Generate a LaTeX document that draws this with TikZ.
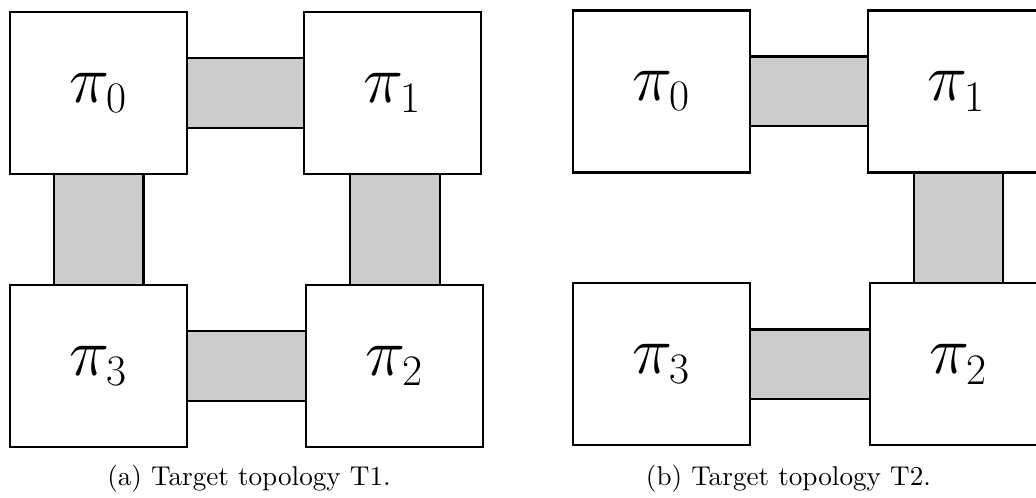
\documentclass[tikz,border=0pt]{standalone}
\usepackage{amsmath,amsfonts}
\usepackage{tikz}
\usetikzlibrary{positioning,calc}
\newcommand{\pilabel}[1]{$\pi_{\mbox{\fontsize{16}{16}\selectfont #1}}$}

\begin{document}
\begin{tikzpicture}[
            proc node/.style={rectangle,draw,line width=0.75pt,fill=white,outer sep=0pt,inner sep=0pt,minimum width=2.287cm,minimum height=2.093cm,font=\fontsize{24}{28}\selectfont},
            link/.style={draw,line width=0.75pt,fill=black!20},
            caption/.style={anchor=base,inner sep=0pt,font=\fontsize{10}{12}\selectfont},
        ]
            \useasboundingbox (0,0) rectangle (13.385,-6.434);

            \node[proc node] (a_pi0) at (1.273,-1.202) {\pilabel{0}};
            \node[proc node, right=1.512cm of a_pi0] (a_pi1) {\pilabel{1}};
            \node[proc node, below=1.434cm of a_pi0] (a_pi3) {\pilabel{3}};
            \node[proc node, right=1.538cm of a_pi3] (a_pi2) {\pilabel{2}};

            \node[proc node] (b_pi0) at (8.547,-1.182) {\pilabel{0}};
            \node[proc node, right=1.525cm of b_pi0] (b_pi1) {\pilabel{1}};
            \node[proc node, below=1.434cm of b_pi0] (b_pi3) {\pilabel{3}};
            \node[proc node, right=1.550cm of b_pi3] (b_pi2) {\pilabel{2}};

            \draw[link] ([yshift=0.452cm]a_pi0.east) rectangle ([yshift=-0.452cm]a_pi1.west);
            \draw[link] ([yshift=0.452cm]a_pi3.east) rectangle ([yshift=-0.452cm]a_pi2.west);
            \draw[link] ([xshift=-0.581cm]a_pi0.south) rectangle ([xshift=0.581cm]a_pi3.north);
            \draw[link] ([xshift=-0.581cm]a_pi2.north |- a_pi1.south) rectangle ([xshift=0.581cm]a_pi2.north);

            \draw[link] ([yshift=0.452cm]b_pi0.east) rectangle ([yshift=-0.452cm]b_pi1.west);
            \draw[link] ([yshift=0.452cm]b_pi3.east) rectangle ([yshift=-0.452cm]b_pi2.west);
            \draw[link] ([xshift=-0.575cm]b_pi2.north |- b_pi1.south) rectangle ([xshift=0.575cm]b_pi2.north);

            \node[caption] (cap_a) at (3.217,-6.279) {(a) Target topology T1.};
            \node[caption] (cap_b) at (10.187,-6.279) {(b) Target topology T2.};
        \end{tikzpicture}
\end{document}
